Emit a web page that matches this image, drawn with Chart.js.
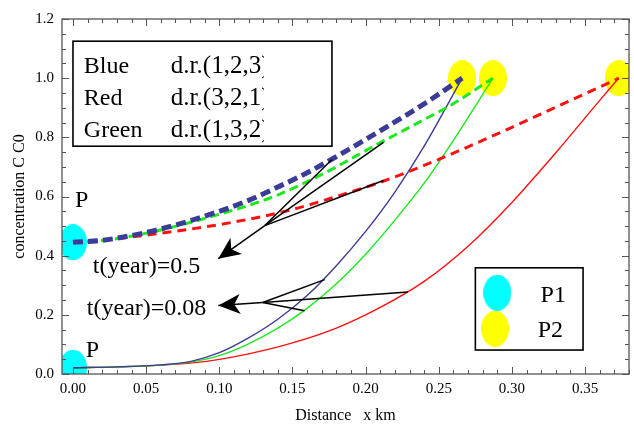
<!DOCTYPE html>
<html>
<head>
<meta charset="utf-8">
<script src="https://cdn.jsdelivr.net/npm/chart.js@4.4.0/dist/chart.umd.min.js"></script>
<style>
  html, body { margin: 0; padding: 0; background: #fff; }
  canvas { display: block; }
</style>
</head>
<body>
<canvas id="chart" width="634" height="427"></canvas>
<script>
// t(year)=0.08 -- solid curves
const blueSolidX  = [0, 0.03, 0.06, 0.08, 0.10, 0.12, 0.14, 0.16, 0.18, 0.20, 0.22, 0.24, 0.266];
const blueSolidY  = [0.021, 0.024, 0.031, 0.042, 0.072, 0.122, 0.185, 0.265, 0.366, 0.482, 0.615, 0.77, 1.0];
const greenSolidX = [0, 0.03, 0.06, 0.08, 0.10, 0.12, 0.14, 0.16, 0.18, 0.20, 0.22, 0.24, 0.26, 0.287];
const greenSolidY = [0.021, 0.024, 0.030, 0.040, 0.062, 0.102, 0.155, 0.222, 0.305, 0.405, 0.52, 0.645, 0.79, 1.0];
const redSolidX   = [0, 0.03, 0.06, 0.09, 0.12, 0.15, 0.18, 0.21, 0.24, 0.27, 0.30, 0.33, 0.36, 0.373];
const redSolidY   = [0.021, 0.024, 0.03, 0.042, 0.068, 0.105, 0.155, 0.225, 0.313, 0.432, 0.58, 0.748, 0.925, 1.0];

// t(year)=0.5 -- dashed curves
const blueDashX  = [0, 0.02, 0.04, 0.06, 0.08, 0.10, 0.12, 0.14, 0.16, 0.18, 0.20, 0.22, 0.24, 0.266];
const blueDashY  = [0.445, 0.452, 0.468, 0.49, 0.518, 0.55, 0.587, 0.632, 0.68, 0.735, 0.793, 0.852, 0.913, 1.0];
const greenDashX = [0, 0.02, 0.04, 0.06, 0.08, 0.10, 0.12, 0.14, 0.16, 0.18, 0.20, 0.22, 0.24, 0.26, 0.287];
const greenDashY = [0.445, 0.451, 0.466, 0.487, 0.512, 0.54, 0.57, 0.605, 0.65, 0.70, 0.755, 0.808, 0.86, 0.914, 1.0];
const redDashX   = [0, 0.03, 0.06, 0.09, 0.12, 0.15, 0.18, 0.21, 0.24, 0.27, 0.30, 0.33, 0.36, 0.373];
const redDashY   = [0.445, 0.458, 0.476, 0.497, 0.523, 0.556, 0.6, 0.648, 0.705, 0.768, 0.834, 0.902, 0.97, 1.0];

// P1 (start) and P2 (end) markers
const p1X = [0, 0];
const p1Y = [0.445, 0.021];
const p2X = [0.266, 0.287, 0.373];
const p2Y = [1.0, 1.0, 1.0];

// axis ticks
const xTicks = [0, 0.05, 0.10, 0.15, 0.20, 0.25, 0.30, 0.35];
const yTicks = [0, 0.2, 0.4, 0.6, 0.8, 1.0, 1.2];

const legendRows = [['Blue', 'd.r.(1,2,3)'], ['Red', 'd.r.(3,2,1)'], ['Green', 'd.r.(1,3,2)']];

// annotation anchors, in data units
const arrowHalf = { hub: [0.1311, 0.5017], tip: [0.0993, 0.390],
                    ends: [[0.177, 0.725], [0.2122, 0.783], [0.2122, 0.654]] };
const arrowEarly = { hub: [0.1297, 0.2417], tip: [0.0993, 0.2315],
                     ends: [[0.172, 0.319], [0.2289, 0.277], [0.1583, 0.2136]] };

const SERIF = '"Liberation Serif", "DejaVu Serif", serif';
const BLUE = '#3b3b98', GREEN = '#1ee81e', RED = '#ff1010';

function pts(xs, ys) { return xs.map((x, i) => ({x: x, y: ys[i]})); }

function ellipseImage(color) {
  const c = document.createElement('canvas');
  c.width = 28; c.height = 36;
  const g = c.getContext('2d');
  g.fillStyle = color;
  g.beginPath();
  g.ellipse(14, 18, 14, 18, 0, 0, Math.PI * 2);
  g.fill();
  return c;
}
const cyanDot = ellipseImage('#00ffff');
const yellowDot = ellipseImage('#ffff00');

function arrowHead(ctx, x0, y0, x1, y1) {
  const a = Math.atan2(y1 - y0, x1 - x0);
  const c = Math.cos(a), s = Math.sin(a);
  const L = 22, W = 10, N = 16;
  ctx.beginPath();
  ctx.moveTo(x1, y1);
  ctx.lineTo(x1 - L * c + W * s, y1 - L * s - W * c);
  ctx.lineTo(x1 - N * c, y1 - N * s);
  ctx.lineTo(x1 - L * c - W * s, y1 - L * s + W * c);
  ctx.closePath();
  ctx.fill();
}

const overlay = {
  id: 'overlay',
  afterDatasetsDraw(chart) {
    const ctx = chart.ctx;
    const X = v => chart.scales.x.getPixelForValue(v);
    const Y = v => chart.scales.y.getPixelForValue(v);
    ctx.save();
    ctx.fillStyle = '#000';
    ctx.strokeStyle = '#000';

    // arrows
    ctx.lineWidth = 1.5;
    [arrowHalf, arrowEarly].forEach(a => {
      const hx = X(a.hub[0]), hy = Y(a.hub[1]);
      a.ends.forEach(e => {
        ctx.beginPath(); ctx.moveTo(hx, hy); ctx.lineTo(X(e[0]), Y(e[1])); ctx.stroke();
      });
      const tx = X(a.tip[0]), ty = Y(a.tip[1]);
      ctx.beginPath(); ctx.moveTo(hx, hy); ctx.lineTo(tx, ty); ctx.stroke();
      arrowHead(ctx, hx, hy, tx, ty);
    });

    ctx.font = '24px ' + SERIF;
    ctx.textBaseline = 'alphabetic';
    ctx.textAlign = 'left';
    ctx.fillText('t(year)=0.5', X(0.0135), Y(0.342));
    ctx.fillText('t(year)=0.08', X(0.0095), Y(0.200));
    ctx.fillText('P', X(0.0014), Y(0.566));
    ctx.fillText('P', X(0.0088), Y(0.058));

    // legend box 1 (the closing bracket is cut off, as in the source figure)
    ctx.lineWidth = 1.6;
    ctx.strokeRect(X(0), Y(1.125), X(0.177) - X(0), Y(0.77) - Y(1.125));
    const rowY = [1.017, 0.908, 0.801];
    legendRows.forEach((r, i) => {
      ctx.font = '24px ' + SERIF;
      ctx.fillText(r[0], X(0.0074), Y(rowY[i]));
      ctx.save();
      ctx.beginPath();
      ctx.rect(X(0.06), Y(1.12), X(0.1305) - X(0.06), Y(0.78) - Y(1.12));
      ctx.clip();
      ctx.font = '25px ' + SERIF;
      ctx.fillText(r[1], X(0.0669), Y(rowY[i]));
      ctx.restore();
    });

    // legend box 2
    ctx.font = '24px ' + SERIF;
    ctx.strokeRect(X(0.275), Y(0.359), X(0.3486) - X(0.275), Y(0.081) - Y(0.359));
    ctx.drawImage(cyanDot, X(0.29) - 14, Y(0.275) - 18);
    ctx.drawImage(yellowDot, X(0.2885) - 14, Y(0.153) - 18);
    ctx.fillText('P1', X(0.3196), Y(0.244));
    ctx.fillText('P2', X(0.3176), Y(0.125));
    ctx.restore();
  },
  afterDraw(chart) {
    // Mathematica-style frame, ticks pointing inward on all sides
    const ctx = chart.ctx, a = chart.chartArea;
    const xs = chart.scales.x, ys = chart.scales.y;
    ctx.save();
    ctx.strokeStyle = '#555';
    ctx.lineWidth = 1.3;
    ctx.strokeRect(a.left, a.top, a.right - a.left, a.bottom - a.top);
    ctx.lineWidth = 1;
    ctx.beginPath();
    for (let i = 0; i <= 38; i++) {
      const x = Math.round(xs.getPixelForValue(i / 100)) + 0.5;
      const len = i % 5 === 0 ? 7 : 4;
      ctx.moveTo(x, a.bottom); ctx.lineTo(x, a.bottom - len);
      ctx.moveTo(x, a.top); ctx.lineTo(x, a.top + len);
    }
    for (let j = 0; j <= 24; j++) {
      const y = Math.round(ys.getPixelForValue(j / 20)) + 0.5;
      const len = j % 4 === 0 ? 7 : 4;
      ctx.moveTo(a.left, y); ctx.lineTo(a.left + len, y);
      ctx.moveTo(a.right, y); ctx.lineTo(a.right - len, y);
    }
    ctx.stroke();
    ctx.restore();
  }
};

function curve(xs, ys, color, width, dash) {
  return {
    type: 'line',
    data: pts(xs, ys),
    borderColor: color,
    borderWidth: width,
    borderDash: dash || [],
    pointRadius: 0,
    fill: false,
    cubicInterpolationMode: 'monotone',
    order: 1
  };
}

new Chart(document.getElementById('chart'), {
  data: {
    datasets: [
      curve(blueDashX, blueDashY, BLUE, 5, [10, 5]),
      curve(greenDashX, greenDashY, GREEN, 3, [9, 5]),
      curve(redDashX, redDashY, RED, 3, [9, 6]),
      curve(blueSolidX, blueSolidY, BLUE, 1.4),
      curve(greenSolidX, greenSolidY, GREEN, 1.4),
      curve(redSolidX, redSolidY, RED, 1.4),
      { type: 'scatter', data: pts(p1X, p1Y), pointStyle: cyanDot, clip: 0, order: 5 },
      { type: 'scatter', data: pts(p2X, p2Y), pointStyle: yellowDot, clip: 0, order: 5 }
    ]
  },
  options: {
    responsive: false,
    devicePixelRatio: 1,
    animation: false,
    layout: { padding: { top: 19, right: 1, left: 0, bottom: 0 } },
    plugins: { legend: { display: false }, tooltip: { enabled: false } },
    scales: {
      x: {
        type: 'linear',
        min: -0.0075,
        max: 0.38,
        grid: { display: false, drawTicks: false },
        border: { display: false },
        afterBuildTicks: s => { s.ticks = xTicks.map(v => ({value: v})); },
        afterFit: s => { s.height = 53; s.paddingLeft = 0; s.paddingRight = 0; },
        ticks: {
          padding: 6,
          color: '#000',
          maxRotation: 0,
          font: { family: SERIF, size: 15 },
          callback: v => Number(v).toFixed(2)
        },
        title: {
          display: true,
          text: 'Distance   x km',
          color: '#000',
          font: { family: SERIF, size: 16 },
          padding: { top: 0, bottom: 2 }
        }
      },
      y: {
        type: 'linear',
        min: 0,
        max: 1.2,
        grid: { display: false, drawTicks: false },
        border: { display: false },
        afterBuildTicks: s => { s.ticks = yTicks.map(v => ({value: v})); },
        afterFit: s => { s.width = 62; s.paddingTop = 0; s.paddingBottom = 0; },
        ticks: {
          padding: 8,
          color: '#000',
          font: { family: SERIF, size: 15 },
          callback: v => Number(v).toFixed(1)
        },
        title: {
          display: true,
          text: 'concentration C C0',
          color: '#000',
          font: { family: SERIF, size: 16 },
          padding: { top: 10, bottom: 0 }
        }
      }
    }
  },
  plugins: [overlay]
});
</script>
</body>
</html>
